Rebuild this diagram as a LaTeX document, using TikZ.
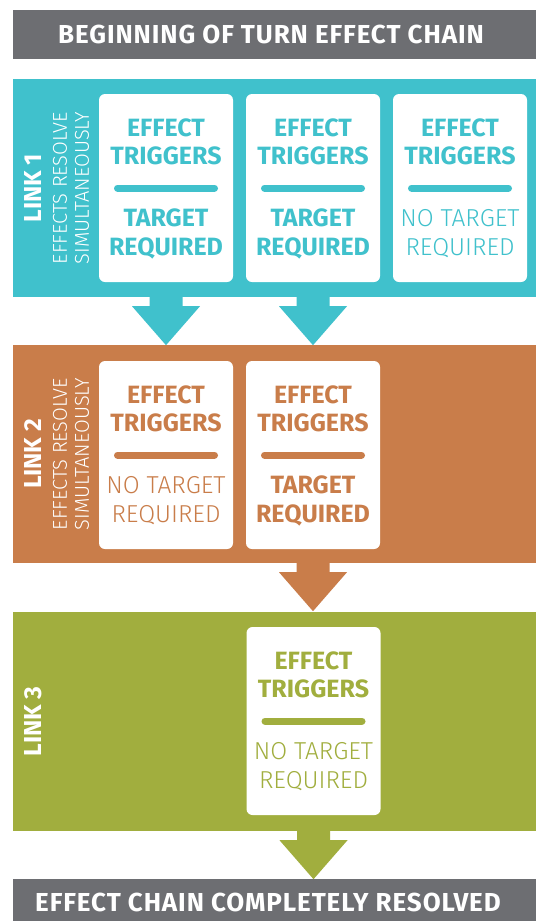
\documentclass[tikz,border=0pt]{standalone}
\usepackage{fontspec}
\setmainfont{Fira Sans}
\IfFontExistsTF{Fira Sans Light}{\newfontfamily\lightf{Fira Sans Light}}{\newfontfamily\lightf{Fira Sans}}
\newfontfamily\barf[LetterSpace=3.5]{Fira Sans}
\usetikzlibrary{calc}
\definecolor{cteal}{HTML}{40C1CC}
\definecolor{corange}{HTML}{C97D4A}
\definecolor{cgreen}{HTML}{A1AE3E}
\definecolor{cgray}{HTML}{6D6E72}
\tikzset{
  panel/.style={fill=#1, draw=none, minimum width=523pt, minimum height=218pt, inner sep=0pt},
  bar/.style={fill=cgray, draw=none, minimum width=523pt, inner sep=0pt},
  card/.style={fill=white, draw=none, rounded corners=6pt, minimum width=134pt, minimum height=188pt, inner sep=0pt},
  boldt/.style={text=#1, font=\fontsize{25}{28}\selectfont\bfseries, anchor=base, inner sep=0pt},
  lightt/.style={text=#1, font=\fontsize{24.5}{28}\selectfont\lightf, anchor=base, inner sep=0pt},
  bartext/.style={text=white, font=\fontsize{26}{28}\selectfont\barf\bfseries, anchor=base, inner sep=0pt},
  linklabel/.style={text=white, font=\fontsize{24.5}{28}\selectfont\bfseries, rotate=90, inner sep=0pt},
  linksub/.style={text=white, font=\fontsize{20}{22}\selectfont\lightf, rotate=90, align=left, inner sep=0pt},
  sepline/.style={draw=#1, line width=7pt, line cap=round},
  downarrow/.pic={\fill (-16.5,0) -- (16.5,0) -- (16.5,9) -- (34,9) -- (0,48) -- (-34,9) -- (-16.5,9) -- cycle;}
}
\newcommand\mkcard[5]{%
  \node[card] (#1) at #2 {};
  \node[boldt=#3] (#1a) at ($(#1.center)+(0,-51.5)$) {EFFECT};
  \node[boldt=#3] (#1b) at ($(#1.center)+(0,-23.5)$) {TRIGGERS};
  \draw[sepline=#3] ($(#1.center)+(-48.5,0)$) -- ($(#1.center)+(48.5,0)$);
  \node[#4=#3] (#1c) at ($(#1.center)+(0,38.5)$) {#5};
  \node[#4=#3] (#1d) at ($(#1.center)+(0,67.5)$) {REQUIRED};
}
\begin{document}
\begin{tikzpicture}[x=1pt,y=-1pt]
\useasboundingbox (0,0) rectangle (536,921);
\fill[white] (0,0) rectangle (536,921);
% top bar
\node[bar, minimum height=49pt] (top) at (274.5,34.5) {};
\node[bartext] (toptext) at (271,43.5) {BEGINNING OF TURN EFFECT CHAIN};
% panels
\node[panel=cteal] (l1) at (274.5,188) {};
\node[panel=corange] (l2) at (274.5,454) {};
\node[panel=cgreen, minimum height=219pt] (l3) at (274.5,721.5) {};
% bottom bar
\node[bar, minimum height=42pt] (bot) at (274.5,900) {};
\node[bartext] (bottext) at (268,911.5) {EFFECT CHAIN COMPLETELY RESOLVED};
% link labels
\node[linklabel] (k1) at (33,188) {LINK 1};
\node[linksub] (s1) at (71,188) {EFFECTS RESOLVE\\SIMULTANEOUSLY};
\node[linklabel] (k2) at (33,454) {LINK 2};
\node[linksub] (s2) at (71,454) {EFFECTS RESOLVE\\SIMULTANEOUSLY};
\node[linklabel] (k3) at (33,721.5) {LINK 3};
% cards
\mkcard{c11}{(166,188)}{cteal}{boldt}{TARGET}
\mkcard{c12}{(313,188)}{cteal}{boldt}{TARGET}
\mkcard{c13}{(460,188)}{cteal}{lightt}{NO TARGET}
\mkcard{c21}{(166,455)}{corange}{lightt}{NO TARGET}
\mkcard{c22}{(313,455)}{corange}{boldt}{TARGET}
\mkcard{c31}{(313.5,721)}{cgreen}{lightt}{NO TARGET}
% arrows
\pic[cteal] (a1) at (c11.center |- l1.south) {downarrow};
\pic[cteal] (a2) at (c12.center |- l1.south) {downarrow};
\pic[corange] (a3) at (c22.center |- l2.south) {downarrow};
\pic[cgreen] (a4) at (c31.center |- l3.south) {downarrow};
\end{tikzpicture}
\end{document}
